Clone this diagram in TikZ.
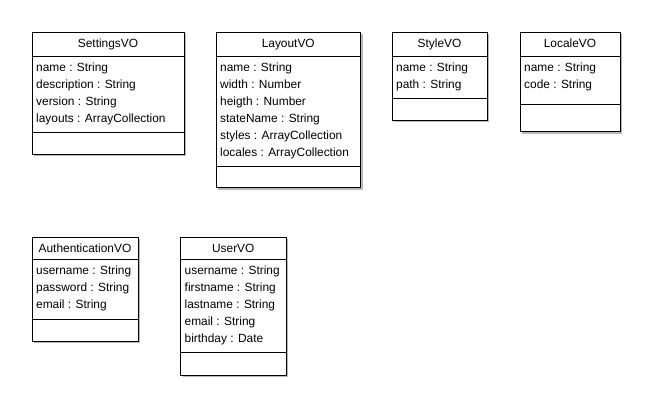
\documentclass[tikz,border=0pt]{standalone}
\usepackage{fontspec}
\setmainfont{Liberation Sans}
\usetikzlibrary{shadows}
\tikzset{
  cls/.style={draw=black, line width=1pt, fill=white, rectangle, anchor=north west,
    inner sep=0pt, outer sep=0pt,
    drop shadow={shadow xshift=2pt, shadow yshift=-2pt, fill=black!28, opacity=1}},
  divider/.style={draw=black, line width=1pt},
  ttl/.style={anchor=base, inner sep=0pt, font=\fontsize{11.9}{14}\selectfont},
  attr/.style={anchor=base west, inner sep=0pt, font=\fontsize{11.9}{14}\selectfont},
}
% \umlclass{name}{x}{y}{w}{h}{header}{attrline}{title}{rows}
\newcommand{\umlclass}[9]{%
  \node[cls, minimum width=#4pt, minimum height=#5pt] (#1) at (#2,#3) {};
  \draw[divider] ([yshift=-#6pt]#1.north west) -- ([yshift=-#6pt]#1.north east);
  \draw[divider] ([yshift=-#7pt]#1.north west) -- ([yshift=-#7pt]#1.north east);
  \node[ttl] (#1-title) at ([yshift=-#6pt/2-3.8pt]#1.north) {#8};
  \foreach \txt [count=\i] in {#9} {
    \node[attr] (#1-a\i) at ([xshift=4pt, yshift=-#6pt-15pt-17pt*\i+17pt]#1.north west) {\txt};
  }
}
\begin{document}
\begin{tikzpicture}[x=1pt, y=-1pt]
\useasboundingbox (0,0) rectangle (652,407);
\fill[white] (0,0) rectangle (652,407);
\umlclass{settings}{32}{32}{152}{122}{24}{100.5}{SettingsVO}{name : String, description : String, version : String, layouts : ArrayCollection}
\umlclass{layout}{216}{32}{144.5}{155.5}{24}{134}{LayoutVO}{name : String, width : Number, heigth : Number, stateName : String, styles : ArrayCollection, locales : ArrayCollection}
\umlclass{style}{392}{32}{95}{88}{24}{66.5}{StyleVO}{name : String, path : String}
\umlclass{locale}{520}{32}{100}{99.5}{24}{72.5}{LocaleVO}{name : String, code : String}
\umlclass{auth}{32}{237}{106}{104}{22.5}{82.5}{AuthenticationVO}{username : String, password : String, email : String}
\umlclass{user}{180.5}{237}{105.5}{138}{22.5}{115.5}{UserVO}{username : String, firstname : String, lastname : String, email : String, birthday : Date}
\end{tikzpicture}
\end{document}
